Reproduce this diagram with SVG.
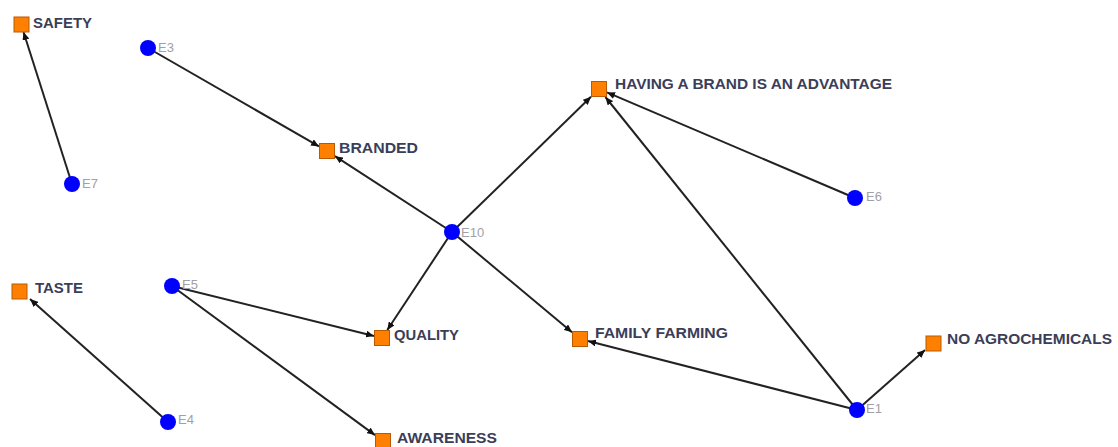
<svg xmlns="http://www.w3.org/2000/svg" width="1118" height="447" viewBox="0 0 1118 447">
  <style>
    .edge { stroke: #222; stroke-width: 2; fill: none; marker-end: url(#arrow); }
    .actor { fill: #0000ff; }
    .concept { fill: #ff8000; stroke: #b85a00; stroke-width: 1; }
    .clabel { font-family: "Liberation Sans", Arial, sans-serif; font-weight: bold; font-size: 15px; fill: #3b3e58; }
    .alabel { font-family: "Liberation Sans", Arial, sans-serif; font-size: 13px; fill: #a0a0a6; }
  </style>
  <defs>
    <marker id="arrow" markerUnits="userSpaceOnUse" markerWidth="8" markerHeight="7" refX="8" refY="3.5" orient="auto">
      <path d="M0,0 L8,3.5 L0,7 z" fill="#111"/>
    </marker>
  </defs>
  <rect width="1118" height="447" fill="#fff"/>

  <!-- connectors: actor -> concept -->
  <g id="edges">
    <line class="edge" x1="72" y1="184" x2="23.5" y2="32"/>
    <line class="edge" x1="148" y1="48" x2="319" y2="146.4"/>
    <line class="edge" x1="452" y1="232" x2="335" y2="156.2"/>
    <line class="edge" x1="452" y1="232" x2="591" y2="96.8"/>
    <line class="edge" x1="452" y1="232" x2="387.3" y2="330"/>
    <line class="edge" x1="452" y1="232" x2="572" y2="332.3"/>
    <line class="edge" x1="855" y1="198" x2="607" y2="92.4"/>
    <line class="edge" x1="857" y1="410" x2="605.4" y2="97"/>
    <line class="edge" x1="857" y1="410" x2="588" y2="341"/>
    <line class="edge" x1="857" y1="410" x2="925" y2="350"/>
    <line class="edge" x1="172" y1="286" x2="374" y2="336"/>
    <line class="edge" x1="172" y1="286" x2="375" y2="435.1"/>
    <line class="edge" x1="168" y1="422" x2="30" y2="299.1"/>
  </g>

  <!-- concepts -->
  <g id="safety">
    <rect class="concept" x="14" y="17" width="15" height="15"/>
    <text class="clabel" x="33" y="28" textLength="59" lengthAdjust="spacingAndGlyphs">SAFETY</text>
  </g>
  <g id="branded">
    <rect class="concept" x="319.5" y="143.5" width="15" height="15"/>
    <text class="clabel" x="339" y="153" textLength="79" lengthAdjust="spacingAndGlyphs">BRANDED</text>
  </g>
  <g id="having-a-brand">
    <rect class="concept" x="591.5" y="81.5" width="15" height="15"/>
    <text class="clabel" x="615" y="89" textLength="277" lengthAdjust="spacingAndGlyphs">HAVING A BRAND IS AN ADVANTAGE</text>
  </g>
  <g id="taste">
    <rect class="concept" x="12" y="284" width="15" height="15"/>
    <text class="clabel" x="35" y="293" textLength="48" lengthAdjust="spacingAndGlyphs">TASTE</text>
  </g>
  <g id="quality">
    <rect class="concept" x="374.5" y="330.5" width="15" height="15"/>
    <text class="clabel" x="394" y="340" textLength="65" lengthAdjust="spacingAndGlyphs">QUALITY</text>
  </g>
  <g id="family-farming">
    <rect class="concept" x="572.5" y="331.5" width="15" height="15"/>
    <text class="clabel" x="595" y="338" textLength="133" lengthAdjust="spacingAndGlyphs">FAMILY FARMING</text>
  </g>
  <g id="no-agrochemicals">
    <rect class="concept" x="926" y="336" width="15" height="15"/>
    <text class="clabel" x="947" y="344" textLength="165" lengthAdjust="spacingAndGlyphs">NO AGROCHEMICALS</text>
  </g>
  <g id="awareness">
    <rect class="concept" x="375.5" y="433.5" width="15" height="15"/>
    <text class="clabel" x="397" y="443" textLength="100" lengthAdjust="spacingAndGlyphs">AWARENESS</text>
  </g>

  <!-- actors -->
  <g id="e3">
    <circle class="actor" cx="148" cy="48" r="8"/>
    <text class="alabel" x="158" y="52">E3</text>
  </g>
  <g id="e7">
    <circle class="actor" cx="72" cy="184" r="8"/>
    <text class="alabel" x="82" y="188">E7</text>
  </g>
  <g id="e10">
    <circle class="actor" cx="452" cy="232" r="8"/>
    <text class="alabel" x="461" y="237">E10</text>
  </g>
  <g id="e6">
    <circle class="actor" cx="855" cy="198" r="8"/>
    <text class="alabel" x="866" y="201">E6</text>
  </g>
  <g id="e5">
    <circle class="actor" cx="172" cy="286" r="8"/>
    <text class="alabel" x="182" y="289">E5</text>
  </g>
  <g id="e4">
    <circle class="actor" cx="168" cy="422" r="8"/>
    <text class="alabel" x="178" y="424">E4</text>
  </g>
  <g id="e1">
    <circle class="actor" cx="857" cy="410" r="8"/>
    <text class="alabel" x="866" y="413">E1</text>
  </g>
</svg>
